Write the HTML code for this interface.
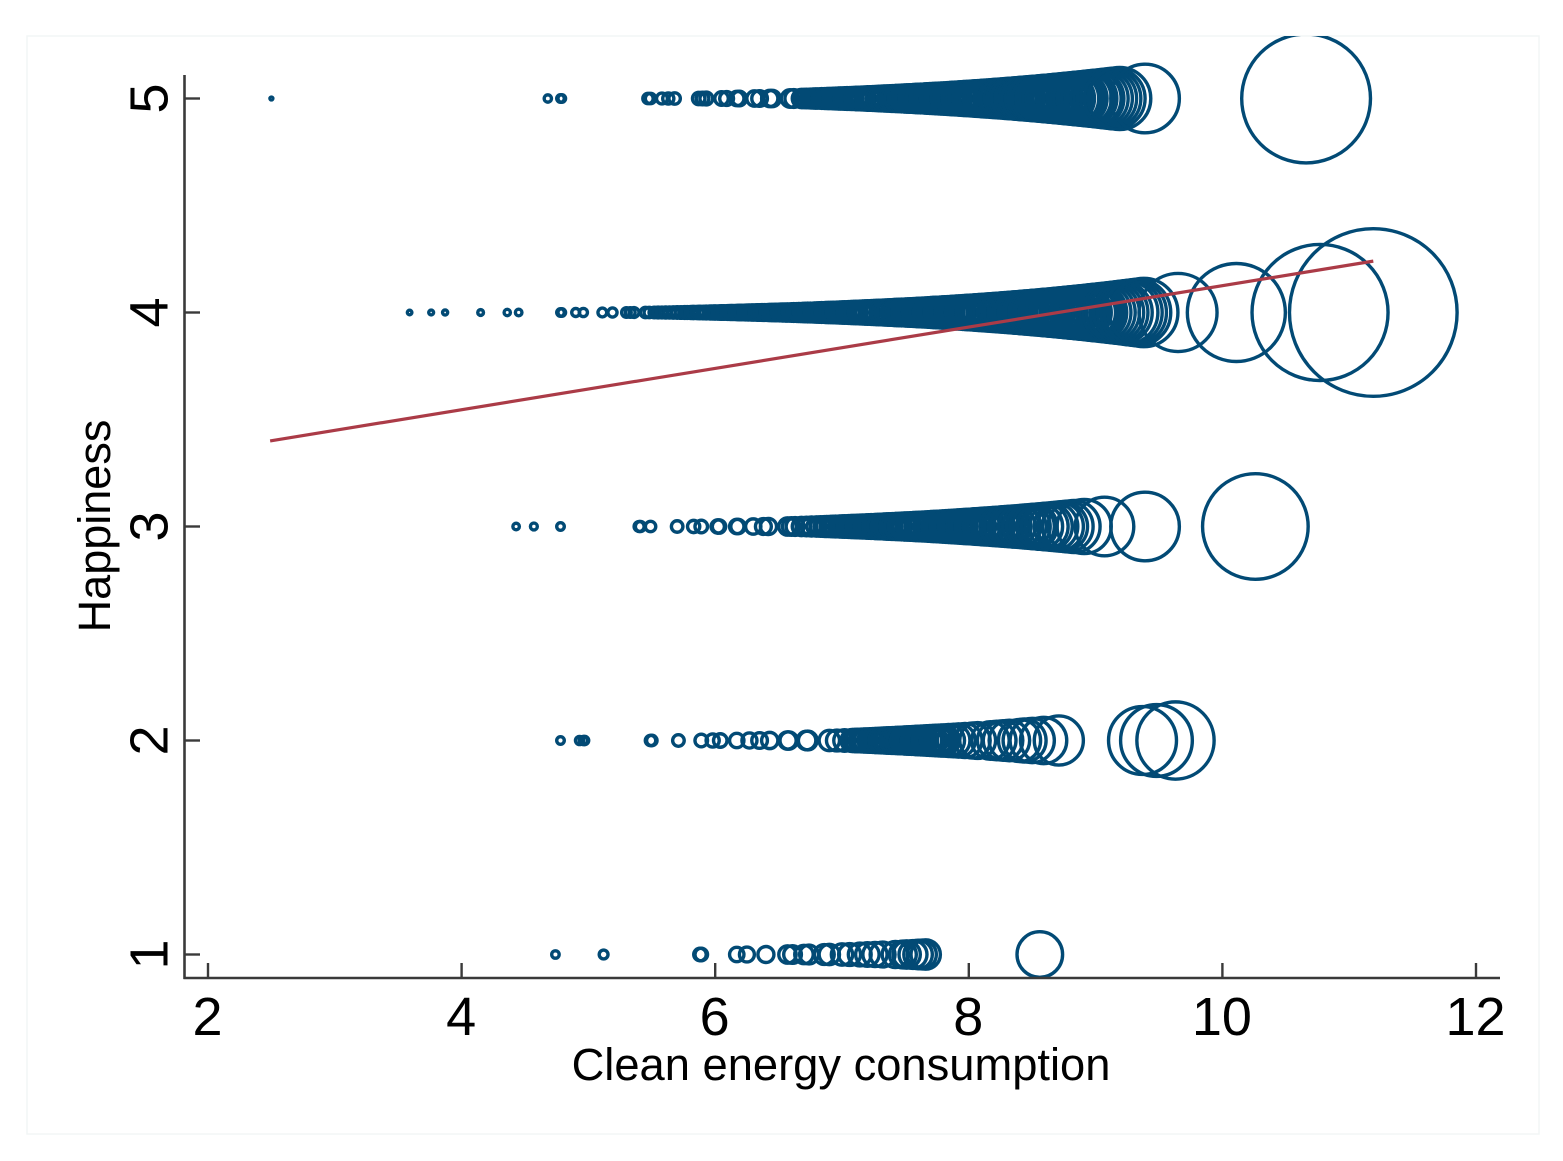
<!DOCTYPE html>
<html lang="en">
<head>
<meta charset="utf-8">
<title>Happiness vs clean energy consumption</title>
<style>
html,body{margin:0;padding:0;background:#fff;}
svg{display:block;}
text{font-family:"Liberation Sans",Arial,sans-serif;fill:#000;}
</style>
</head>
<body>
<svg id="chart" xmlns="http://www.w3.org/2000/svg" width="1563" height="1161" viewBox="0 0 1563 1161">
  <rect x="0" y="0" width="1563" height="1161" fill="#ffffff"/>
  <rect x="27" y="36" width="1512" height="1098" fill="#ffffff" stroke="#f2f6f6" stroke-width="1.5"/>
  <defs><clipPath id="frame-clip"><rect x="27" y="36" width="1512" height="1098"/></clipPath></defs>
  <g id="bubbles" clip-path="url(#frame-clip)" fill="none" stroke="#024a75" stroke-width="3.4"></g>
  <polyline id="fit-line" fill="none" stroke="#ab3b47" stroke-width="3.2"/>
  <g id="axes"></g>
  <text x="841" y="1080" font-size="45.3" text-anchor="middle">Clean energy consumption</text>
  <text transform="translate(110,526) rotate(-90)" font-size="45" text-anchor="middle">Happiness</text>
</svg>
<script>
const xTicks = [2, 4, 6, 8, 10, 12];
const yTicks = [1, 2, 3, 4, 5];
const fitX = [2.49, 11.19];
const fitY = [3.4, 4.24];

const energyAtHappiness1 = [4.74,5.12,5.88,5.89,6.17,6.25,6.40,6.57,6.61,6.70,6.74,6.86,6.90,7.00,7.06,7.14,7.20,7.26,7.32,7.42,7.48,7.51,7.56,7.60,7.63,7.66,8.56];

const energyAtHappiness2 = [4.78,4.93,4.96,4.97,5.49,5.50,5.71,5.89,5.98,6.04,6.17,6.27,6.35,6.43,6.57,6.58,6.72,6.73,6.90,6.96,7.02,7.08,7.10,7.12,7.15,7.17,7.19,7.22,7.24,7.26,7.28,7.31,7.33,7.35,7.37,7.40,7.42,7.44,7.46,7.49,7.51,7.53,7.55,7.58,7.60,7.62,7.64,7.67,7.69,7.71,7.74,7.76,7.78,7.80,7.84,7.88,7.92,7.97,8.03,8.07,8.17,8.22,8.27,8.32,8.40,8.44,8.50,8.59,8.71,9.37,9.48,9.63];

const energyAtHappiness3 = [4.43,4.57,4.78,5.40,5.41,5.49,5.70,5.83,5.89,6.02,6.03,6.17,6.18,6.30,6.38,6.42,6.57,6.60,6.63,6.68,6.72,6.76,6.80,6.83,6.86,6.88,6.91,6.93,6.95,6.98,7.00,7.02,7.05,7.07,7.09,7.12,7.14,7.16,7.19,7.21,7.23,7.26,7.28,7.30,7.33,7.35,7.37,7.40,7.42,7.44,7.47,7.49,7.51,7.54,7.56,7.58,7.61,7.63,7.65,7.68,7.70,7.72,7.75,7.77,7.79,7.82,7.84,7.86,7.89,7.91,7.93,7.96,7.98,8.00,8.03,8.05,8.07,8.10,8.12,8.14,8.17,8.19,8.21,8.24,8.26,8.28,8.31,8.33,8.36,8.40,8.44,8.47,8.50,8.52,8.56,8.60,8.63,8.67,8.71,8.74,8.78,8.83,8.91,9.07,9.39,10.26];

const energyAtHappiness4 = [3.59,3.76,3.87,4.15,4.36,4.45,4.78,4.79,4.90,4.96,5.11,5.19,5.30,5.33,5.36,5.45,5.48,5.52,5.55,5.58,5.61,5.64,5.67,5.70,5.73,5.76,5.78,5.81,5.83,5.86,5.88,5.91,5.93,5.96,5.98,6.00,6.03,6.05,6.07,6.10,6.12,6.14,6.17,6.19,6.21,6.24,6.26,6.28,6.30,6.33,6.35,6.37,6.39,6.42,6.44,6.46,6.48,6.51,6.53,6.55,6.57,6.60,6.62,6.64,6.66,6.69,6.71,6.73,6.75,6.78,6.80,6.82,6.84,6.87,6.89,6.91,6.93,6.96,6.98,7.00,7.02,7.05,7.07,7.09,7.11,7.14,7.16,7.18,7.20,7.23,7.25,7.27,7.29,7.32,7.34,7.36,7.38,7.41,7.43,7.45,7.47,7.50,7.52,7.54,7.56,7.59,7.61,7.63,7.65,7.68,7.70,7.72,7.74,7.77,7.79,7.81,7.83,7.86,7.88,7.90,7.92,7.95,7.97,7.99,8.01,8.04,8.06,8.08,8.10,8.13,8.15,8.17,8.19,8.22,8.24,8.26,8.28,8.31,8.33,8.35,8.37,8.40,8.42,8.44,8.46,8.49,8.51,8.53,8.55,8.58,8.60,8.62,8.64,8.67,8.69,8.71,8.73,8.76,8.78,8.80,8.82,8.85,8.87,8.89,8.91,8.94,8.96,8.98,9.00,9.02,9.05,9.08,9.11,9.14,9.17,9.20,9.24,9.27,9.30,9.33,9.38,9.65,10.11,10.77,11.19];

const energyAtHappiness5 = [2.5,4.68,4.78,4.79,5.47,5.49,5.58,5.63,5.68,5.87,5.90,5.93,6.05,6.09,6.17,6.19,6.31,6.35,6.43,6.45,6.59,6.62,6.68,6.70,6.72,6.75,6.77,6.79,6.81,6.84,6.86,6.88,6.90,6.93,6.95,6.97,6.99,7.02,7.04,7.06,7.08,7.11,7.13,7.15,7.17,7.20,7.22,7.24,7.26,7.29,7.31,7.33,7.35,7.38,7.40,7.42,7.44,7.47,7.49,7.51,7.53,7.56,7.58,7.60,7.62,7.65,7.67,7.69,7.71,7.74,7.76,7.78,7.80,7.83,7.85,7.87,7.89,7.92,7.94,7.96,7.98,8.01,8.03,8.05,8.07,8.10,8.12,8.14,8.16,8.19,8.21,8.23,8.25,8.28,8.30,8.32,8.34,8.37,8.39,8.41,8.43,8.46,8.48,8.50,8.52,8.55,8.57,8.59,8.61,8.64,8.66,8.68,8.70,8.73,8.75,8.77,8.79,8.82,8.84,8.86,8.88,8.91,8.93,8.95,8.98,9.00,9.03,9.06,9.09,9.12,9.15,9.19,9.39,10.66];

const seriesByLevel = [
  [1, energyAtHappiness1],
  [2, energyAtHappiness2],
  [3, energyAtHappiness3],
  [4, energyAtHappiness4],
  [5, energyAtHappiness5]
];

const SVGNS = 'http://www.w3.org/2000/svg';
function xScale(v) { return 208 + (v - 2) * 126.8; }
function yScale(v) { return 954.5 - (v - 1) * 214; }
function rScale(v) { return 0.31 * Math.sqrt(Math.exp(v)) + 0.4; }

const bubbles = document.getElementById('bubbles');
for (const [level, values] of seriesByLevel) {
  for (const v of values) {
    const c = document.createElementNS(SVGNS, 'circle');
    c.setAttribute('cx', xScale(v));
    c.setAttribute('cy', yScale(level));
    c.setAttribute('r', rScale(v));
    
    
    bubbles.appendChild(c);
  }
}

const fit = document.getElementById('fit-line');
fit.setAttribute('points', fitX.map((v, i) => xScale(v) + ',' + yScale(fitY[i])).join(' '));

const axes = document.getElementById('axes');
function axisLine(x1, y1, x2, y2, w) {
  const l = document.createElementNS(SVGNS, 'line');
  l.setAttribute('x1', x1);
  l.setAttribute('y1', y1);
  l.setAttribute('x2', x2);
  l.setAttribute('y2', y2);
  l.setAttribute('stroke', '#3a3a3a');
  l.setAttribute('stroke-width', w);
  axes.appendChild(l);
  return l;
}
const xAxis = axisLine(183.5, 978, 1500, 978, 2.6);


const yAxis = axisLine(184.5, 75, 184.5, 979, 2.6);



for (const t of xTicks) {
  const m = axisLine(xScale(t), 963, xScale(t), 978, 2.4);
  
  
  const label = document.createElementNS(SVGNS, 'text');
  label.setAttribute('x', xScale(t) - 0.5);
  label.setAttribute('y', 1035);
  label.setAttribute('font-size', 54);
  label.setAttribute('text-anchor', 'middle');
  label.textContent = t;
  
  
  axes.appendChild(label);
}
for (const t of yTicks) {
  const m = axisLine(184.5, yScale(t), 200, yScale(t), 2.4);
  
  
  const label = document.createElementNS(SVGNS, 'text');
  label.setAttribute('transform', 'translate(167.5,' + yScale(t) + ') rotate(-90)');
  label.setAttribute('font-size', 54);
  label.setAttribute('text-anchor', 'middle');
  label.textContent = t;
  
  
  axes.appendChild(label);
}
</script>
</body>
</html>
